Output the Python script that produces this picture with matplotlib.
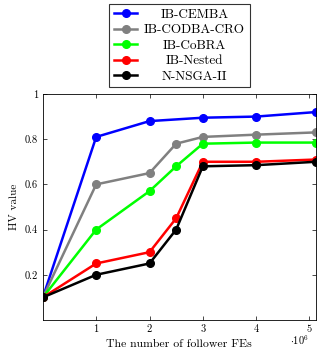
import numpy as np
import matplotlib
matplotlib.use('Agg')
import matplotlib.pyplot as plt

plt.rcParams['font.family'] = 'cmr10'
plt.rcParams['mathtext.fontset'] = 'cm'
plt.rcParams['axes.formatter.use_mathtext'] = True

# follower FEs (x 10^6)
fes_full = [0, 1, 2, 2.5, 3, 4, 5.12]
fes_cemba = [0, 1, 2, 3, 4, 5.12]

hv_cemba = [0.1, 0.81, 0.88, 0.895, 0.90, 0.92]
hv_codba = [0.1, 0.60, 0.65, 0.78, 0.81, 0.82, 0.83]
hv_cobra = [0.1, 0.40, 0.57, 0.68, 0.78, 0.785, 0.785]
hv_nested = [0.1, 0.25, 0.30, 0.45, 0.70, 0.70, 0.71]
hv_nsga = [0.1, 0.20, 0.25, 0.40, 0.68, 0.685, 0.70]

labels = ['IB-CEMBA', 'IB-CODBA-CRO', 'IB-CoBRA', 'IB-Nested', 'N-NSGA-II']
colors = ['#0000ff', '#808080', '#00ff00', '#ff0000', '#000000']


def main():
    fig = plt.figure(figsize=(3.2, 3.52), dpi=100)
    ax = fig.add_axes([0.134, 0.091, 0.853, 0.642])

    series = [(fes_cemba, hv_cemba), (fes_full, hv_codba), (fes_full, hv_cobra),
              (fes_full, hv_nested), (fes_full, hv_nsga)]
    for (x, y), lab, c in zip(series, labels, colors):
        ax.plot(x, y, color=c, lw=1.8, marker='o', ms=5.5, label=lab)

    ax.set_xlim(0, 5.12)
    ax.set_ylim(0, 1)
    ax.set_xticks([1, 2, 3, 4, 5])
    ax.set_xticklabels(['1', '2', '3', '4', '5'])
    ax.set_yticks([0.2, 0.4, 0.6, 0.8, 1])
    ax.set_yticklabels(['0.2', '0.4', '0.6', '0.8', '1'])
    ax.tick_params(direction='in', top=True, right=True, labelsize=7.5, length=3, width=0.5)
    for s in ax.spines.values():
        s.set_linewidth(0.6)

    ax.set_xlabel('The number of follower FEs', fontsize=8.5, labelpad=4)
    ax.set_ylabel('HV value', fontsize=8, labelpad=4)
    fig.text(0.905, 0.02, r'$\cdot10^6$', fontsize=7.5)

    leg = ax.legend(loc='lower center', bbox_to_anchor=(0.5, 1.03), fontsize=9.5,
                    frameon=True, fancybox=False, edgecolor='black',
                    handlelength=1.8, handletextpad=0.5, borderpad=0.35,
                    labelspacing=0.24, borderaxespad=0)
    leg.get_frame().set_linewidth(0.8)

    # center the legend labels in their column (like pgfplots)
    fig.canvas.draw()
    r = fig.canvas.get_renderer()
    boxes = [t.get_window_extent(r) for t in leg.get_texts()]
    x0 = min(b.x0 for b in boxes)
    x1 = max(b.x1 for b in boxes)
    xc = (x0 + x1) / 2
    for t, b in zip(leg.get_texts(), boxes):
        t.set_visible(False)
        fig.text(xc, b.y0, t.get_text(), fontsize=9.5, ha='center', va='bottom',
                 transform=None)

    fig.savefig('out.png', dpi=100)


if __name__ == "__main__":
    main()
